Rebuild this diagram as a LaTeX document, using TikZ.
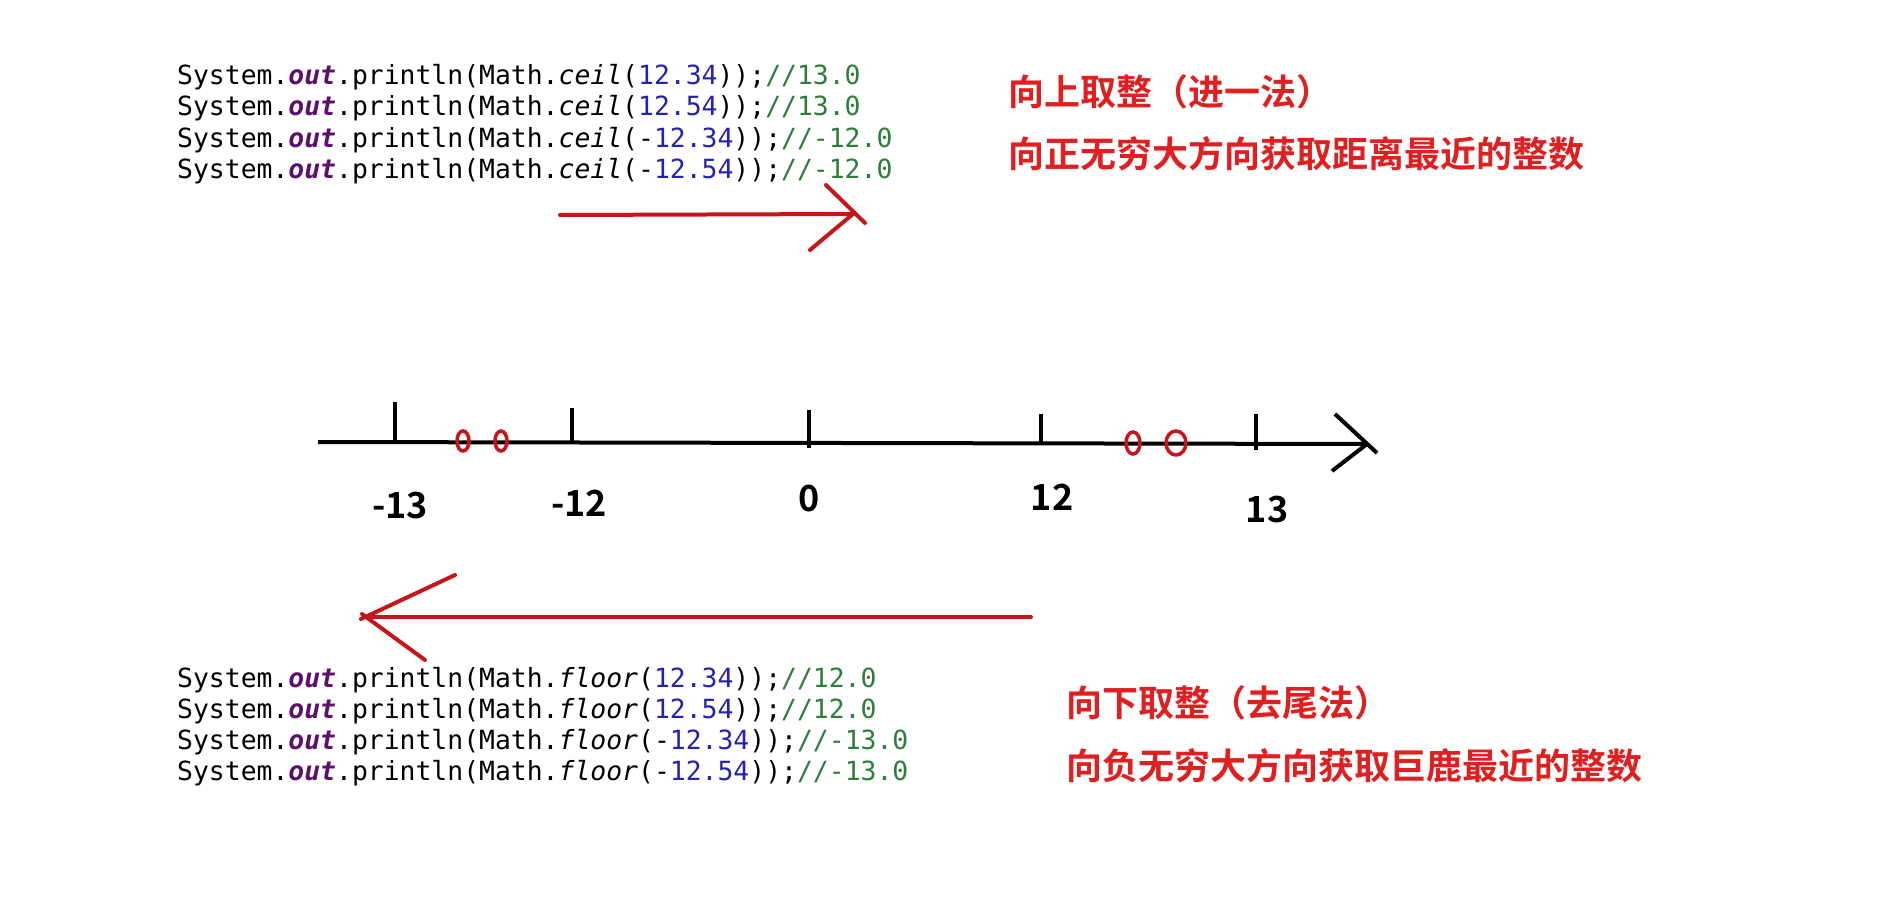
\documentclass[tikz,border=0pt]{standalone}
\usepackage{fontspec}
\setmonofont{DejaVu Sans Mono}
\newfontfamily\cjkb{Noto Sans CJK SC Bold}
\definecolor{jpurple}{HTML}{5E0F6E}
\definecolor{jblue}{HTML}{2323B0}
\definecolor{jgreen}{HTML}{2E7D3A}
\definecolor{cnred}{HTML}{E02020}
\definecolor{arrowred}{HTML}{C4161C}
\newcommand\JOut{\textcolor{jpurple}{\bfseries\itshape out}}
\newcommand\JNum[1]{\textcolor{jblue}{#1}}
\newcommand\JCom[1]{\textcolor{jgreen}{//#1}}
\tikzset{
  code/.style={anchor=base west, inner sep=0pt, font=\ttfamily\fontsize{26.4}{30}\selectfont},
  cntext/.style={anchor=base west, inner sep=0pt, text=cnred, font=\cjkb\fontsize{36}{40}\selectfont},
  numlabel/.style={inner sep=0pt, font=\cjkb\fontsize{36}{40}\selectfont},
  axis/.style={line width=4pt, draw=black},
  tickline/.style={line width=3.5pt, draw=black},
  redarrow/.style={line width=4pt, draw=arrowred, line cap=round},
  ring/.style={line width=3.5pt, draw=arrowred}
}
\begin{document}
\begin{tikzpicture}[x=1pt, y=-1pt]
\useasboundingbox[fill=white] (0,0) rectangle (1891,920);

% top code
\node[code] (c1) at (177,85)  {System.\JOut.println(Math.\textit{ceil}(\JNum{12.34}));\JCom{13.0}};
\node[code] (c2) at (177,116) {System.\JOut.println(Math.\textit{ceil}(\JNum{12.54}));\JCom{13.0}};
\node[code] (c3) at (177,148) {System.\JOut.println(Math.\textit{ceil}(-\JNum{12.34}));\JCom{-12.0}};
\node[code] (c4) at (177,179) {System.\JOut.println(Math.\textit{ceil}(-\JNum{12.54}));\JCom{-12.0}};

% top chinese
\node[cntext] (t1) at (1008,106) {向上取整（进一法）};
\node[cntext] (t2) at (1008,168) {向正无穷大方向获取距离最近的整数};

% top arrow
\coordinate (ua) at (560,215);
\coordinate (ub) at (853,214);
\draw[redarrow] (ua) -- (ub);
\draw[redarrow] (826,185) -- (865,223);
\draw[redarrow] (ub) -- (810,250);

% number line
\coordinate (ax0) at (318,442);
\coordinate (ax1) at (1367,444);
\draw[axis] (ax0) -- (ax1);
\draw[axis] (1335,414) -- (1377,453);
\draw[axis] (ax1) -- (1332,471);

\draw[tickline] (395,402) -- (395,442);
\draw[tickline] (572,408) -- (572,442);
\draw[tickline] (809,410) -- (809,448);
\draw[tickline] (1041,414) -- (1041,445);
\draw[tickline] (1256,414) -- (1256,450);

\draw[ring] (463,441) ellipse [x radius=6, y radius=10];
\draw[ring] (501,441) ellipse [x radius=6, y radius=10];
\draw[ring] (1133,443) ellipse [x radius=7, y radius=11];
\draw[ring] (1176,443) ellipse [x radius=10, y radius=12];

\node[numlabel] (lm13) at (400,506) {-13};
\node[numlabel] (lm12) at (579,503) {-12};
\node[numlabel] (l0)   at (809,499) {0};
\node[numlabel] (l12)  at (1052,497) {12};
\node[numlabel] (l13)  at (1267,510) {13};

% bottom arrow
\coordinate (ba) at (1031,617);
\coordinate (bb) at (365,617);
\draw[redarrow] (ba) -- (bb);
\draw[redarrow] (361,619) -- (455,575);
\draw[redarrow] (362,614) -- (425,660);

% bottom code
\node[code] (f1) at (177,687) {System.\JOut.println(Math.\textit{floor}(\JNum{12.34}));\JCom{12.0}};
\node[code] (f2) at (177,718) {System.\JOut.println(Math.\textit{floor}(\JNum{12.54}));\JCom{12.0}};
\node[code] (f3) at (177,749) {System.\JOut.println(Math.\textit{floor}(-\JNum{12.34}));\JCom{-13.0}};
\node[code] (f4) at (177,780) {System.\JOut.println(Math.\textit{floor}(-\JNum{12.54}));\JCom{-13.0}};

% bottom chinese
\node[cntext] (b1) at (1066,716) {向下取整（去尾法）};
\node[cntext] (b2) at (1066,779) {向负无穷大方向获取巨鹿最近的整数};
\end{tikzpicture}
\end{document}
